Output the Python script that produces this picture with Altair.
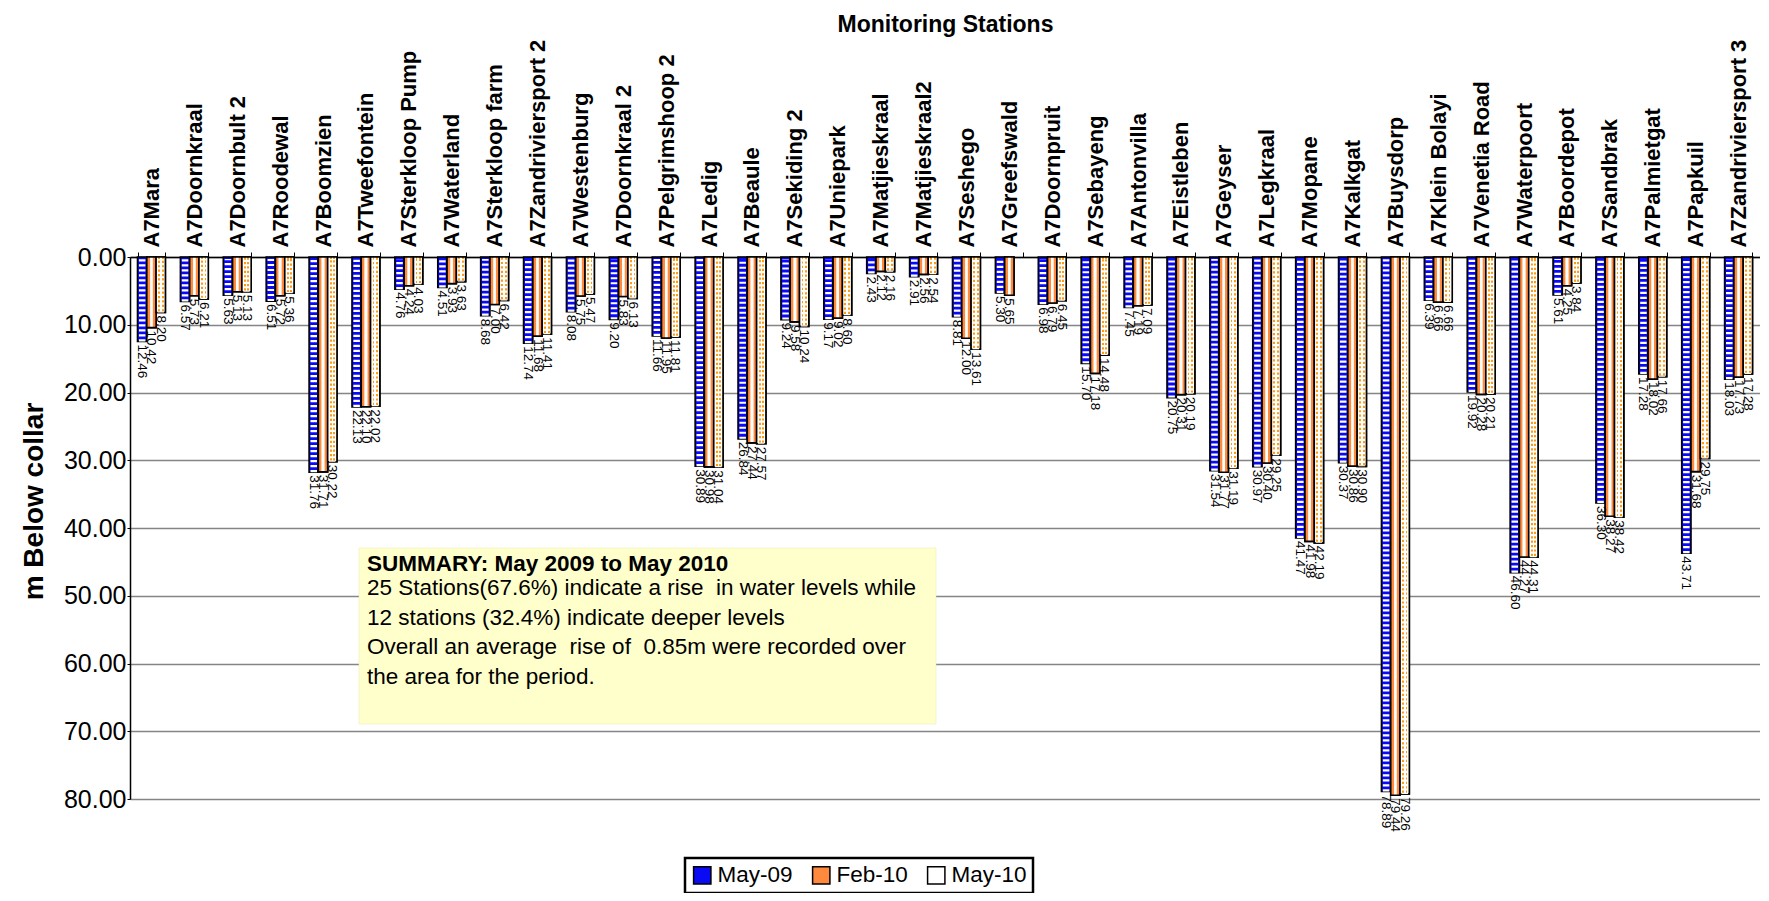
import altair as alt
import pandas as pd

stations = [
    "A7Mara", "A7Doornkraal", "A7Doornbult 2", "A7Roodewal", "A7Boomzien",
    "A7Tweefontein", "A7Sterkloop Pump", "A7Waterland", "A7Sterkloop farm",
    "A7Zandriviersport 2", "A7Westenburg", "A7Doornkraal 2", "A7Pelgrimshoop 2",
    "A7Ledig", "A7Beaule", "A7Sekiding 2", "A7Uniepark", "A7Matjieskraal",
    "A7Matjieskraal2", "A7Seshego", "A7Greefswald", "A7Doornpruit", "A7Sebayeng",
    "A7Antonvilla", "A7Eistleben", "A7Geyser", "A7Legkraal", "A7Mopane",
    "A7Kalkgat", "A7Buysdorp", "A7Klein Bolayi", "A7Venetia Road", "A7Waterpoort",
    "A7Boordepot", "A7Sandbrak", "A7Palmietgat", "A7Papkuil", "A7Zandriviersport 3",
]
may09 = [12.46, 6.57, 5.63, 6.51, 31.76, 22.13, 4.76, 4.51, 8.68, 12.74, 8.08, 9.20,
         11.66, 30.89, 26.84, 9.24, 9.17, 2.43, 2.91, 8.81, 5.30, 6.98, 15.70, 7.45,
         20.75, 31.54, 30.97, 41.47, 30.37, 78.89, 6.39, 19.92, 46.60, 5.61, 36.30,
         17.28, 43.71, 18.03]
feb10 = [10.42, 5.73, 5.13, 5.72, 31.71, 22.10, 4.24, 3.93, 7.00, 11.68, 5.75, 5.83,
         11.95, 30.98, 27.44, 9.58, 9.02, 2.12, 2.56, 12.00, 5.65, 6.79, 17.18, 7.19,
         20.31, 31.77, 30.40, 41.98, 30.86, 79.44, 6.66, 20.28, 44.27, 4.25, 38.27,
         18.02, 31.68, 17.73]
may10 = [8.20, 6.21, 5.13, 5.36, 30.22, 22.02, 4.03, 3.63, 6.42, 11.41, 5.47, 6.13,
         11.81, 31.04, 27.57, 10.24, 8.60, 2.16, 2.54, 13.61, None, 6.45, 14.48, 7.09,
         20.19, 31.19, 29.25, 42.19, 30.90, 79.26, 6.66, 20.21, 44.31, 3.84, 38.42,
         17.66, 29.75, 17.28]
series = ["May-09", "Feb-10", "May-10"]
y_ticks = [0, 10, 20, 30, 40, 50, 60, 70, 80]

summary_title = "SUMMARY: May 2009 to May 2010"
summary_lines = [
    "25 Stations(67.6%) indicate a rise \u00a0in water levels while",
    "12 stations (32.4%) indicate deeper levels",
    "Overall an average \u00a0rise of \u00a00.85m were recorded over",
    "the area for the period.",
]

rows = []
for i, st in enumerate(stations):
    for name, vals in zip(series, [may09, feb10, may10]):
        v = vals[i]
        if v is None:
            continue
        rows.append({"station": st, "series": name, "value": v})
df = pd.DataFrame(rows)

FONT = "Liberation Sans"
BLUE = "#0A0AF5"
ORANGE = "#FF8A3D"
DOT = "#FF9B10"

x_enc = alt.X(
    "station:N",
    sort=stations,
    scale=alt.Scale(domain=stations, paddingInner=0.35, paddingOuter=0.175),
    axis=alt.Axis(
        orient="top", title="Monitoring Stations", titleFontSize=23,
        titleFont=FONT, titleFontWeight="bold", titlePadding=21,
        labelAngle=-90, labelFont=FONT, labelFontSize=22, labelFontWeight="bold",
        labelColor="black", labelPadding=5, labelLimit=400,
        tickBand="extent", tickSize=5, tickColor="black",
        domainColor="black", domainWidth=1.5,
    ),
)
xoff = alt.XOffset("series:N", sort=series,
                   scale=alt.Scale(domain=series, paddingInner=0, paddingOuter=0))
y_enc = alt.Y(
    "value:Q",
    scale=alt.Scale(domain=[0, 80], reverse=True, nice=False, zero=True),
    axis=alt.Axis(
        values=y_ticks, format=".2f", title="m Below collar",
        titleFont=FONT, titleFontSize=28, titleFontWeight="bold",
        titleAngle=-90, titleX=-96, titleY=244, titleAlign="center",
        titleBaseline="middle",
        labelFont=FONT, labelFontSize=25, labelColor="black", labelPadding=1,
        tickSize=3, tickColor="black", domainColor="black", domainWidth=1.5,
        grid=True, gridColor="#858585", gridWidth=1.3,
    ),
)

base = alt.Chart(df)

bars = base.mark_bar(stroke="black", strokeWidth=1.6).encode(
    x=x_enc, xOffset=xoff, y=y_enc,
    color=alt.Color(
        "series:N", sort=series,
        scale=alt.Scale(domain=series, range=[BLUE, ORANGE, "#FFFFFF"]),
        legend=alt.Legend(
            orient="none", legendX=555, legendY=601, direction="horizontal",
            title=None, labelFont=FONT, labelFontSize=22.5, labelColor="black",
            symbolType="square", symbolSize=300, symbolStrokeColor="black",
            symbolStrokeWidth=1.5, symbolOpacity=1, strokeColor="black",
            padding=6, columnPadding=16, labelOffset=4,
        ),
    ),
)

feb_stripes = base.transform_filter(alt.datum.series == "Feb-10").mark_bar(
    stroke="black", strokeWidth=1.6,
    fill=alt.Gradient(
        gradient="linear", x1=0, x2=1, y1=0, y2=0,
        stops=[
            alt.GradientStop(offset=0.0, color=ORANGE),
            alt.GradientStop(offset=0.32, color=ORANGE),
            alt.GradientStop(offset=0.32, color="#FFC79E"),
            alt.GradientStop(offset=0.42, color="#FFFFFF"),
            alt.GradientStop(offset=0.58, color="#FFFFFF"),
            alt.GradientStop(offset=0.68, color="#FFC79E"),
            alt.GradientStop(offset=0.68, color=ORANGE),
            alt.GradientStop(offset=1.0, color=ORANGE),
        ],
    ),
).encode(x=x_enc, xOffset=xoff, y=y_enc)

may10_cols = base.transform_filter(alt.datum.series == "May-10").mark_bar(
    stroke="black", strokeWidth=1.6,
    fill=alt.Gradient(
        gradient="linear", x1=0, x2=1, y1=0, y2=0,
        stops=[
            alt.GradientStop(offset=0.0, color="#FFFFFF"),
            alt.GradientStop(offset=0.22, color="#FFFFFF"),
            alt.GradientStop(offset=0.22, color=DOT),
            alt.GradientStop(offset=0.42, color=DOT),
            alt.GradientStop(offset=0.42, color="#FFFFFF"),
            alt.GradientStop(offset=0.6, color="#FFFFFF"),
            alt.GradientStop(offset=0.6, color=DOT),
            alt.GradientStop(offset=0.8, color=DOT),
            alt.GradientStop(offset=0.8, color="#FFFFFF"),
            alt.GradientStop(offset=1.0, color="#FFFFFF"),
        ],
    ),
).encode(x=x_enc, xOffset=xoff, y=y_enc)

may10_rows = base.transform_filter(alt.datum.series == "May-10").mark_rule(
    color="white", strokeWidth=6.5, strokeDash=[2.2, 2.2], strokeDashOffset=1
).encode(x=x_enc, xOffset=xoff, y=y_enc, y2=alt.datum(0.3))

blue_stripes = base.transform_filter(alt.datum.series == "May-09").mark_rule(
    color="white", strokeWidth=6.5, strokeDash=[2.2, 2.8]
).encode(x=x_enc, xOffset=xoff, y=y_enc, y2=alt.datum(0.3))

labels = base.mark_text(
    angle=90, align="left", baseline="middle", dx=3, font=FONT, fontSize=13.5,
    color="black",
).encode(x=x_enc, xOffset=xoff, y=y_enc, text=alt.Text("value:Q", format=".2f"))

note_df = pd.DataFrame({"title": [summary_title], "body": ["\n".join(summary_lines)]})
note_box = alt.Chart(note_df).mark_rect(fill="#FFFFCC", stroke="#E8E8B0", strokeWidth=0.5).encode(
    x=alt.value(229), x2=alt.value(806), y=alt.value(291), y2=alt.value(467)
)
note_title = alt.Chart(note_df).mark_text(
    align="left", baseline="middle", font=FONT, fontSize=22.5, fontWeight="bold", color="black"
).encode(x=alt.value(237), y=alt.value(307), text="title:N")
note_body = alt.Chart(note_df).mark_text(
    align="left", baseline="top", font=FONT, fontSize=22.5, color="black",
    lineBreak="\n", lineHeight=29.5,
).encode(x=alt.value(237), y=alt.value(320), text="body:N")

chart = alt.layer(
    note_box, bars, feb_stripes, may10_cols, may10_rows, blue_stripes, labels,
    note_title, note_body,
).properties(
    width=1630, height=542,
    autosize=alt.AutoSizeParams(type="none"),
    padding={"left": 122, "top": 249, "right": 0, "bottom": 94},
).configure_view(stroke="#858585", strokeWidth=1.3).configure(
    font=FONT
).configure_legend(strokeWidth=2.5)

chart.save("out.html", embed_options={"renderer": "svg", "actions": False})
